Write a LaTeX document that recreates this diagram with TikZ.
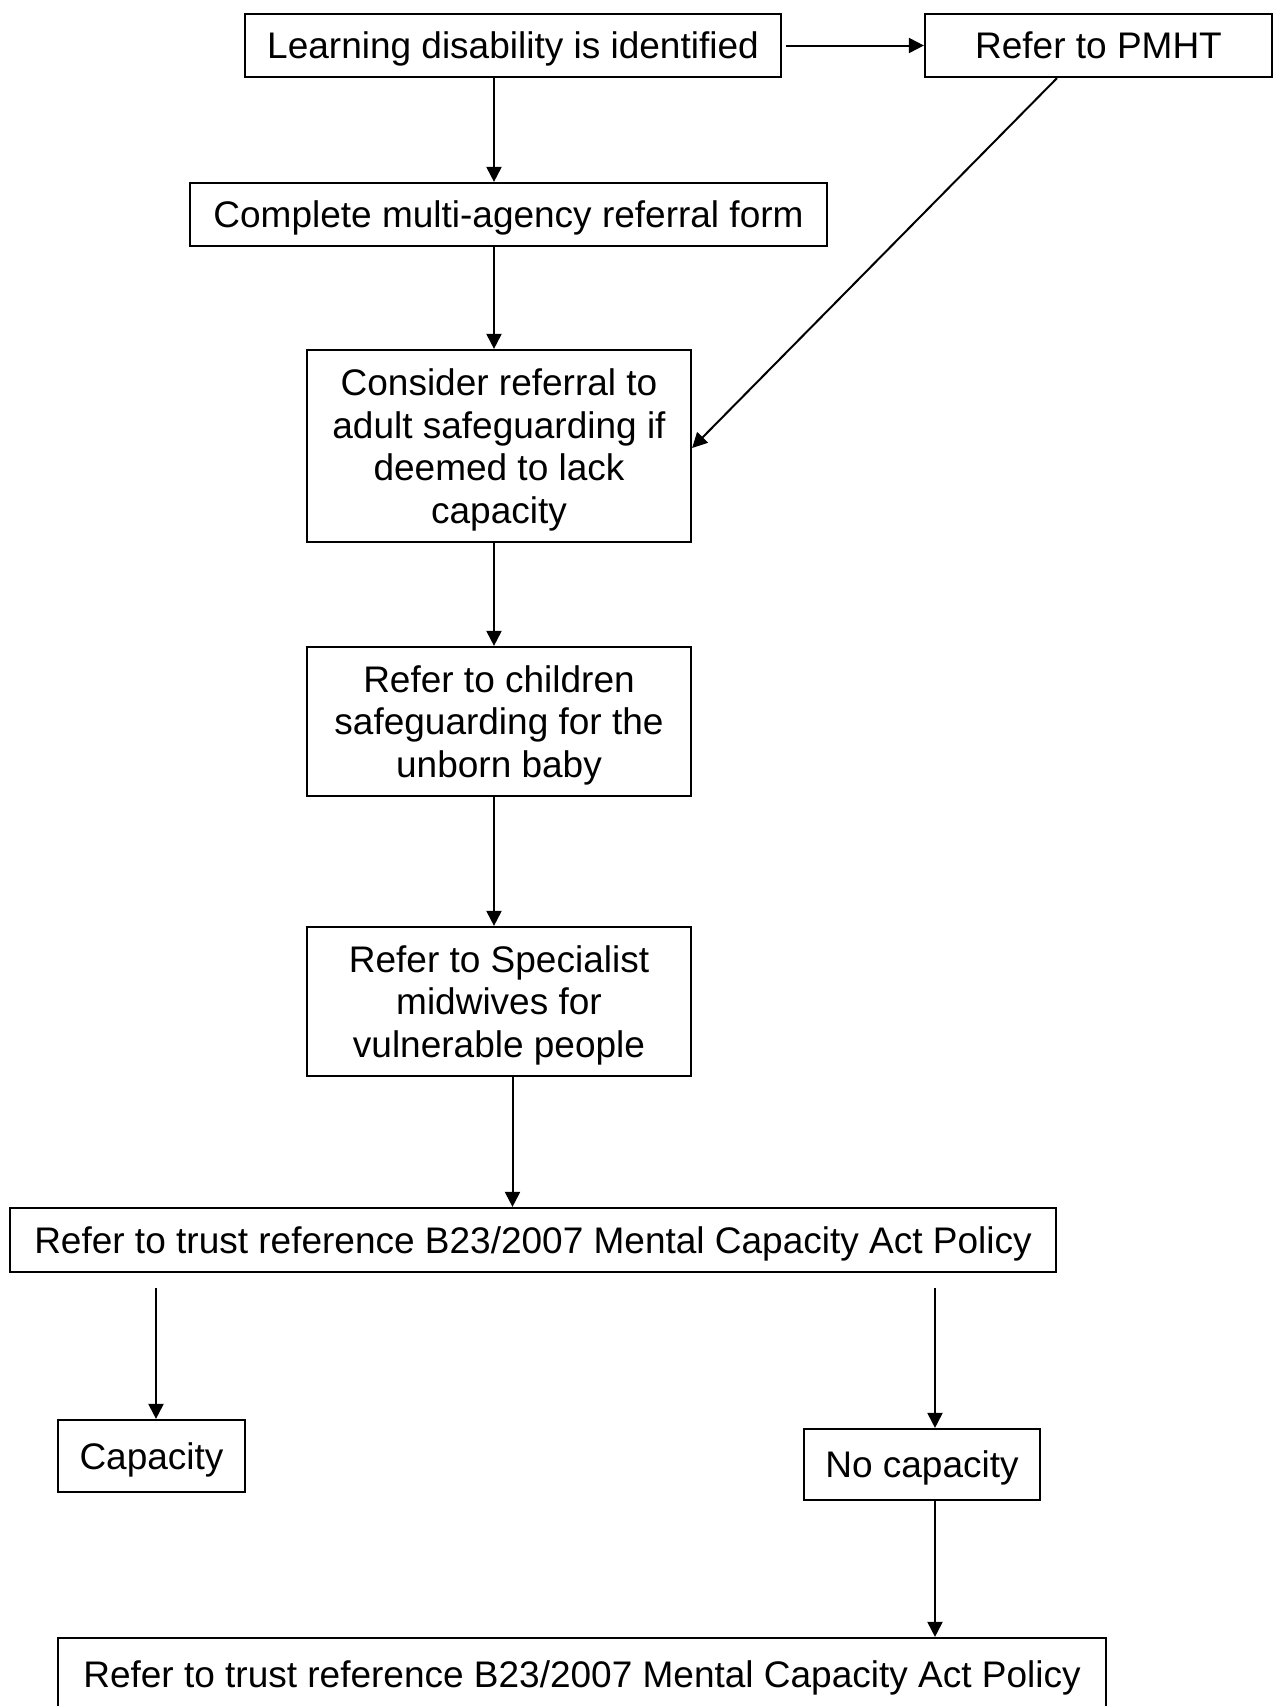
\documentclass[tikz,border=0pt]{standalone}
\usepackage{fontspec}
\setmainfont{Liberation Sans}
\usetikzlibrary{arrows.meta}

\begin{document}
\begin{tikzpicture}[x=1pt,y=-1pt,
    box/.style={draw,line width=2.2pt,inner sep=0pt,align=center,text depth=0pt,
      font=\fontsize{37}{42.8}\selectfont},
    arr/.style={line width=2pt,-{Triangle[length=15pt,width=15pt]}}]
  \useasboundingbox (0,0) rectangle (1274,1706);
  % boxes
  \node[box,minimum width=536pt,minimum height=63pt] (learn) at (513,45.5) {Learning disability is identified};
  \node[box,minimum width=347pt,minimum height=63pt] (pmht) at (1098.5,45.5) {Refer to PMHT};
  \node[box,minimum width=637pt,minimum height=63pt] (form) at (508.5,214.5) {Complete multi-agency referral form};
  \node[box,minimum width=384pt,minimum height=192pt] (adult) at (499,446) {Consider referral to\\adult safeguarding if\\deemed to lack\\capacity};
  \node[box,minimum width=384pt,minimum height=149pt] (child) at (499,721.5) {Refer to children\\safeguarding for the\\unborn baby};
  \node[box,minimum width=384pt,minimum height=149pt] (spec) at (499,1001.5) {Refer to Specialist\\midwives for\\vulnerable people};
  \node[box,minimum width=1046pt,minimum height=64pt] (trust) at (533,1240) {Refer to trust reference B23/2007 Mental Capacity Act Policy};
  \node[box,minimum width=187pt,minimum height=72pt] (cap) at (151.5,1456) {Capacity};
  \node[box,minimum width=236pt,minimum height=71pt] (nocap) at (922,1464.5) {No capacity};
  \node[box,minimum width=1048pt,minimum height=72pt] (policy) at (582,1674) {Refer to trust reference B23/2007 Mental Capacity Act Policy};
  % where the vertical arrows run
  \coordinate (spine) at (494,0);
  \coordinate (spine2) at (512.5,0);
  \coordinate (left) at (156,1288);
  \coordinate (right) at (935,1288);
  \coordinate (diag) at (1057,0);
  % arrows
  \draw[arr] ([xshift=4pt]learn.east) -- (pmht.west);
  \draw[arr] (learn.south -| spine) -- (form.north -| spine);
  \draw[arr] (form.south -| spine) -- (adult.north -| spine);
  \draw[arr] (pmht.south -| diag) -- ([yshift=-2pt]adult.east);
  \draw[arr] (adult.south -| spine) -- (child.north -| spine);
  \draw[arr] (child.south -| spine) -- (spec.north -| spine);
  \draw[arr] (spec.south -| spine2) -- (trust.north -| spine2);
  \draw[arr] (left) -- (cap.north -| left);
  \draw[arr] (right) -- (nocap.north -| right);
  \draw[arr] (nocap.south -| right) -- (policy.north -| right);
\end{tikzpicture}
\end{document}
